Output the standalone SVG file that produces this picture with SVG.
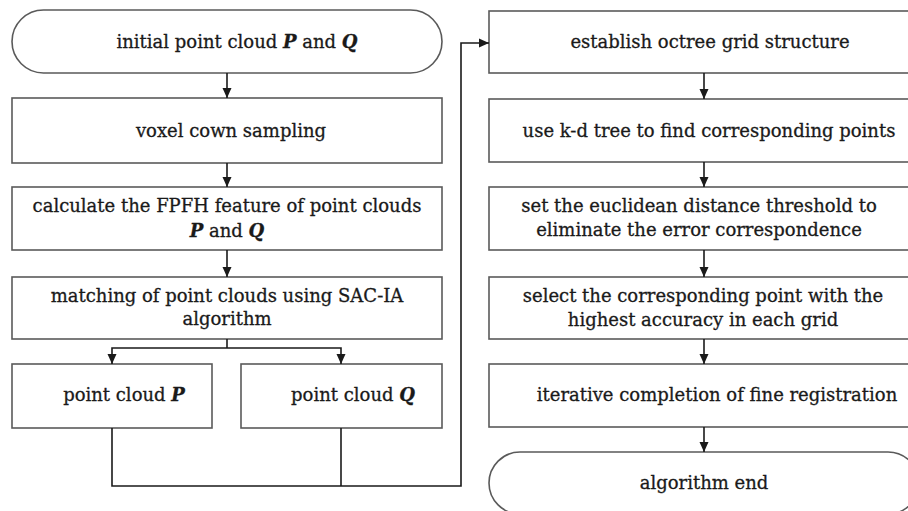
<svg xmlns="http://www.w3.org/2000/svg" width="908" height="511" viewBox="0 0 908 511">
<defs>
<marker id="ah" markerWidth="10" markerHeight="11" refX="10" refY="5" orient="auto" markerUnits="userSpaceOnUse">
<path d="M0,0.5 L10,5 L0,9.5 Z" fill="#1a1a1a"/>
</marker>
<style>
.box{fill:#fff;stroke:#5a5a5a;stroke-width:1.6}
.t{font-family:"DejaVu Serif","Liberation Serif",serif;font-size:18px;fill:#1a1a1a;stroke:#1a1a1a;stroke-width:0.3;text-anchor:middle}
.bi{font-weight:bold;font-style:italic}
.c{fill:none;stroke:#1a1a1a;stroke-width:1.6}
.ca{fill:none;stroke:#1a1a1a;stroke-width:1.6;marker-end:url(#ah)}
</style>
</defs>
<rect width="908" height="511" fill="#fff"/>
<g id="start">
<rect class="box" x="12" y="10" width="430" height="63" rx="31.5" ry="31.5"/>
<text class="t" x="237" y="48">initial point cloud <tspan class="bi">P</tspan> and <tspan class="bi">Q</tspan></text>
</g>
<g id="voxel">
<rect class="box" x="12" y="98" width="430" height="65"/>
<text class="t" x="231" y="137">voxel cown sampling</text>
</g>
<g id="fpfh">
<rect class="box" x="12" y="187" width="430" height="63"/>
<text class="t" x="227" y="212">calculate the FPFH feature of point clouds</text>
<text class="t" x="227" y="237"><tspan class="bi">P</tspan> and <tspan class="bi">Q</tspan></text>
</g>
<g id="sacia">
<rect class="box" x="12" y="277" width="430" height="62"/>
<text class="t" x="227" y="302">matching of point clouds using SAC-IA</text>
<text class="t" x="227" y="325">algorithm</text>
</g>
<g id="cloudP">
<rect class="box" x="12" y="364" width="200" height="64"/>
<text class="t" x="124" y="401">point cloud <tspan class="bi">P</tspan></text>
</g>
<g id="cloudQ">
<rect class="box" x="241" y="364" width="201" height="64"/>
<text class="t" x="353" y="401">point cloud <tspan class="bi">Q</tspan></text>
</g>
<g id="octree">
<rect class="box" x="489" y="11" width="430" height="62"/>
<text class="t" x="710" y="48">establish octree grid structure</text>
</g>
<g id="kdtree">
<rect class="box" x="489" y="99" width="430" height="63"/>
<text class="t" x="709" y="137">use k-d tree to find corresponding points</text>
</g>
<g id="threshold">
<rect class="box" x="489" y="187" width="430" height="63"/>
<text class="t" x="699" y="212">set the euclidean distance threshold to</text>
<text class="t" x="699" y="236">eliminate the error correspondence</text>
</g>
<g id="select">
<rect class="box" x="489" y="277" width="430" height="62"/>
<text class="t" x="703" y="302">select the corresponding point with the</text>
<text class="t" x="703" y="326">highest accuracy in each grid</text>
</g>
<g id="iterative">
<rect class="box" x="489" y="364" width="430" height="63"/>
<text class="t" x="717" y="401">iterative completion of fine registration</text>
</g>
<g id="end">
<rect class="box" x="489" y="452" width="430" height="62" rx="31" ry="31"/>
<text class="t" x="704" y="489">algorithm end</text>
</g>
<g id="connectors">
<line class="ca" x1="227" y1="73" x2="227" y2="98"/>
<line class="ca" x1="227" y1="163" x2="227" y2="187"/>
<line class="ca" x1="227" y1="250" x2="227" y2="277"/>
<polyline class="c" points="227,339 227,348"/>
<polyline class="ca" points="227,348 112,348 112,364"/>
<polyline class="ca" points="227,348 341,348 341,364"/>
<polyline class="c" points="341,428 341,486"/>
<polyline class="ca" points="112,428 112,486 461,486 461,43 489,43"/>
<line class="ca" x1="704" y1="73" x2="704" y2="99"/>
<line class="ca" x1="704" y1="162" x2="704" y2="187"/>
<line class="ca" x1="704" y1="250" x2="704" y2="277"/>
<line class="ca" x1="704" y1="339" x2="704" y2="364"/>
<line class="ca" x1="704" y1="427" x2="704" y2="452"/>
</g>
</svg>
